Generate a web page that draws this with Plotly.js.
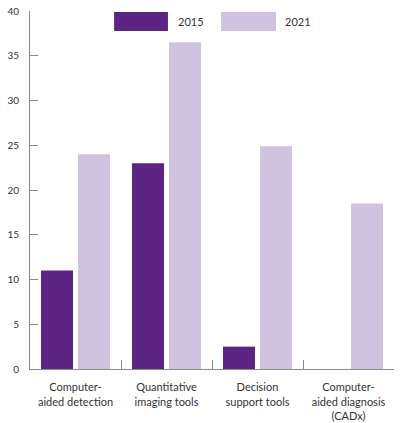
<!DOCTYPE html>
<html>
<head>
<meta charset="utf-8">
<script src="https://cdn.plot.ly/plotly-3.0.1.min.js"></script>
<style>
  html, body { margin: 0; padding: 0; background: #fff; }
  #chart { width: 400px; height: 423px; }
</style>
</head>
<body>
<div id="chart"></div>
<script>
const categories = [
  'Computer-<br>aided detection',
  'Quantitative<br>imaging tools',
  'Decision<br>support tools',
  'Computer-<br>aided diagnosis<br>(CADx)'
];
const years = ['2015', '2021'];
const values2015 = [11, 23, 2.5, 0];
const values2021 = [24, 36.5, 24.9, 18.5];
const yTicks = [0, 5, 10, 15, 20, 25, 30, 35, 40];
const colors = ['#5c2483', '#cfc3e0'];

const font = 'Lato, "Open Sans", sans-serif';

const traces = [values2015, values2021].map((vals, i) => ({
  type: 'bar',
  name: years[i],
  x: categories,
  y: vals,
  marker: { color: colors[i], line: { width: 0 } },
  showlegend: false,
  hoverinfo: 'x+y'
}));

// legend drawn as big swatches like the original
const swatchX = [[0.231, 0.379], [0.525, 0.676]];
const labelX = [0.401, 0.695];
const shapes = years.map((yr, i) => ({
  type: 'rect', xref: 'paper', yref: 'paper',
  x0: swatchX[i][0], x1: swatchX[i][1], y0: 0.944, y1: 0.997,
  fillcolor: colors[i], line: { width: 0 }
}));
const annotations = years.map((yr, i) => ({
  xref: 'paper', yref: 'paper', x: labelX[i], y: 0.970,
  xanchor: 'left', yanchor: 'middle', showarrow: false,
  text: yr, font: { family: font, size: 11, color: '#333' }
}));

const layout = {
  width: 400,
  height: 423,
  margin: { l: 30, r: 6, t: 11, b: 54 },
  paper_bgcolor: '#fff',
  plot_bgcolor: '#fff',
  barmode: 'group',
  bargap: 0.187,
  bargroupgap: 0.135,
  font: { family: font, size: 10, color: '#333' },
  xaxis: {
    type: 'category',
    showline: true,
    linecolor: '#8a8a8a',
    linewidth: 1,
    ticks: 'inside',
    tickson: 'boundaries',
    ticklen: 9,
    tickcolor: '#8a8a8a',
    showgrid: false,
    zeroline: false,
    tickfont: { family: font, size: 11, color: '#333' },
    ticklabelstandoff: 8
  },
  yaxis: {
    range: [0, 40],
    tickvals: yTicks,
    showline: true,
    linecolor: '#8a8a8a',
    linewidth: 1,
    ticks: 'inside',
    ticklen: 8,
    tickcolor: '#8a8a8a',
    showgrid: false,
    zeroline: false,
    tickfont: { family: font, size: 10, color: '#333' },
    ticklabelstandoff: 8
  },
  shapes: shapes,
  annotations: annotations
};

Plotly.newPlot('chart', traces, layout, { displayModeBar: false, staticPlot: true });
</script>
</body>
</html>
